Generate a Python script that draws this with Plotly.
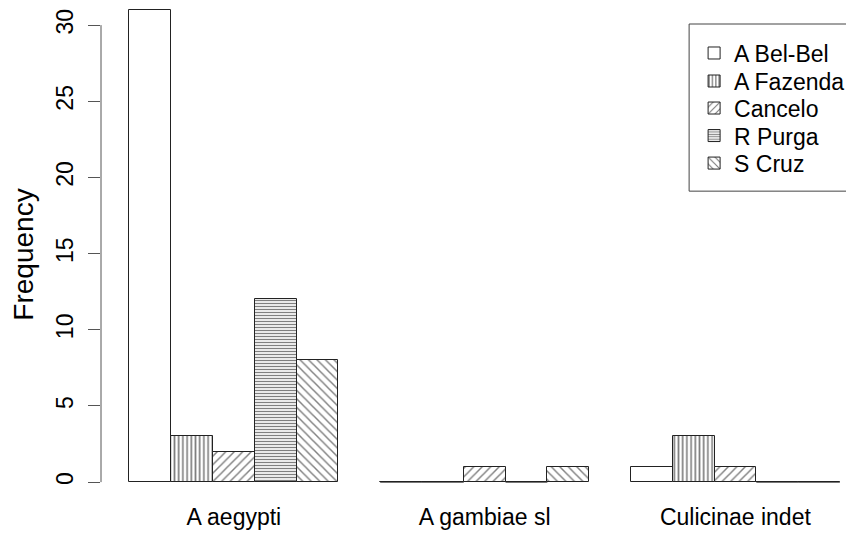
import plotly.graph_objects as go

# ---- data ----
species = ["A aegypti", "A gambiae sl", "Culicinae indet"]
sites = ["A Bel-Bel", "A Fazenda", "Cancelo", "R Purga", "S Cruz"]
counts = {
    "A Bel-Bel": [31, 0, 1],
    "A Fazenda": [3, 0, 3],
    "Cancelo":   [2, 1, 1],
    "R Purga":   [12, 0, 0],
    "S Cruz":    [8, 1, 0],
}
y_ticks = [0, 5, 10, 15, 20, 25, 30]

# ---- styling ----
patterns = {
    "A Bel-Bel": dict(shape=""),
    "A Fazenda": dict(shape="|", size=4.2, solidity=0.4),
    "Cancelo":   dict(shape="/", size=6, solidity=0.24),
    "R Purga":   dict(shape="-", size=3, solidity=0.45),
    "S Cruz":    dict(shape="\\", size=6, solidity=0.24),
}
FONT = "Liberation Sans"
FS = 23
W, H = 846, 527          # page has an 8px body margin
L, B = 92.5, 34.4
PW, PH = W - L, H - B
PXU = 41.82              # px per bar unit
nS = len(sites)
group_step = nS + 1      # one empty bar-width between groups

fig = go.Figure()
zero_x, zero_y = [], []
legend_y = [45, 73, 100, 127.5, 155]
for i, s in enumerate(sites):
    xs = [1.5 + g * group_step + i for g in range(len(species))]
    pat = dict(patterns[s])
    if pat["shape"]:
        pat.update(fillmode="overlay", fgcolor="black", bgcolor="white")
    lg = "legend" if i == 0 else f"legend{i + 1}"
    fig.add_trace(go.Bar(
        x=xs, y=counts[s], width=1, name=s, legend=lg,
        marker=dict(color="white", line=dict(color="#222", width=1), pattern=pat),
        hoverinfo="skip",
    ))
    for x, v in zip(xs, counts[s]):
        if v == 0:
            zero_x += [x - 0.5, x + 0.5, None]
            zero_y += [0, 0, None]
    fig.update_layout({lg: dict(
        x=(686 - L) / PW, y=1 - legend_y[i] / PH,
        xanchor="left", yanchor="middle",
        bgcolor="rgba(0,0,0,0)", borderwidth=0,
        font=dict(family=FONT, size=FS))})

fig.add_trace(go.Scatter(x=zero_x, y=zero_y, mode="lines",
                         line=dict(color="#222", width=1),
                         showlegend=False, hoverinfo="skip"))

centers = [1 + g * group_step + nS / 2 for g in range(len(species))]

# y axis line spanning only the ticks
fig.add_shape(type="line", xref="paper", yref="y", x0=0, x1=0,
              y0=y_ticks[0], y1=y_ticks[-1], line=dict(color="#555", width=1))
# legend box
fig.add_shape(type="rect", xref="paper", yref="paper",
              x0=(681 - L) / PW, x1=1.05,
              y0=1 - 183 / PH, y1=1 - 16 / PH,
              line=dict(color="#444", width=1), fillcolor="rgba(0,0,0,0)")

fig.update_layout(
    width=W, height=H,
    margin=dict(l=L, r=0, t=0, b=B),
    paper_bgcolor="white", plot_bgcolor="white",
    barmode="overlay", bargap=0,
    font=dict(family=FONT, size=FS, color="black"),
    showlegend=True,
    xaxis=dict(range=[0.32, 0.32 + PW / PXU], tickvals=centers,
               ticktext=species, showgrid=False, zeroline=False,
               showline=False, ticks="", ticklabelstandoff=0),
    yaxis=dict(range=[-1.24, (481.7 - 8) / 15.22], tickvals=y_ticks,
               showgrid=False, zeroline=False, showline=False,
               ticks="outside", ticklen=12, tickcolor="#555",
               tickangle=-90, ticklabelstandoff=6,
               title=dict(text="Frequency", standoff=11)),
)

fig.write_html("out.html")
